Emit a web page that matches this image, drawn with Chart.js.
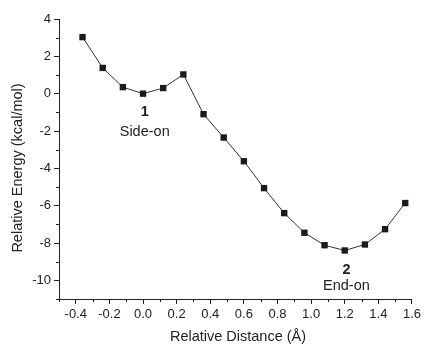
<!DOCTYPE html>
<html>
<head>
<meta charset="utf-8">
<script src="https://cdn.jsdelivr.net/npm/chart.js@4"></script>
<style>
  html, body { margin: 0; padding: 0; background: #fff; }
  #wrap { width: 424px; height: 344px; }
</style>
</head>
<body>
<div id="wrap"><canvas id="energy-chart" width="424" height="344"></canvas></div>
<script>
// Relative energy scan: side-on (1) -> end-on (2)
const distances = [-0.36, -0.24, -0.12, 0.0, 0.12, 0.24, 0.36, 0.48, 0.60, 0.72, 0.84, 0.96, 1.08, 1.20, 1.32, 1.44, 1.56];
const energies = [3.03, 1.38, 0.35, 0.0, 0.3, 1.03, -1.1, -2.35, -3.62, -5.06, -6.4, -7.45, -8.12, -8.4, -8.08, -7.26, -5.86];
const xTicks = [-0.4, -0.2, 0.0, 0.2, 0.4, 0.6, 0.8, 1.0, 1.2, 1.4, 1.6];
const xMinor = [-0.5, -0.3, -0.1, 0.1, 0.3, 0.5, 0.7, 0.9, 1.1, 1.3, 1.5];
const yTicks = [-10, -8, -6, -4, -2, 0, 2, 4];
const yMinor = [-11, -9, -7, -5, -3, -1, 1, 3];
const labels = [
  { x: 0.01, y: -1.0, text: '1', bold: true },
  { x: 0.01, y: -2.03, text: 'Side-on', bold: false },
  { x: 1.21, y: -9.43, text: '2', bold: true },
  { x: 1.21, y: -10.32, text: 'End-on', bold: false }
];

const FONT = '"Liberation Sans", Arial, sans-serif';
const INK = '#222';

// minor ticks, point labels and axis titles
const extras = {
  id: 'extras',
  afterDraw(chart) {
    const ctx = chart.ctx;
    const xs = chart.scales.x, ys = chart.scales.y;
    const area = chart.chartArea;
    ctx.save();
    ctx.strokeStyle = INK;
    ctx.lineWidth = 1;
    ctx.beginPath();
    xMinor.forEach(v => {
      const px = Math.round(xs.getPixelForValue(v)) + 0.5;
      ctx.moveTo(px, area.bottom);
      ctx.lineTo(px, area.bottom + 3);
    });
    yMinor.forEach(v => {
      const py = Math.round(ys.getPixelForValue(v)) + 0.5;
      ctx.moveTo(area.left, py);
      ctx.lineTo(area.left - 3, py);
    });
    ctx.stroke();

    ctx.fillStyle = INK;
    ctx.textAlign = 'center';
    ctx.textBaseline = 'middle';
    labels.forEach(l => {
      ctx.font = (l.bold ? 'bold ' : '') + '14.5px ' + FONT;
      ctx.fillText(l.text, xs.getPixelForValue(l.x), ys.getPixelForValue(l.y));
    });

    ctx.font = '14.5px ' + FONT;
    ctx.fillText('Relative Distance (Å)', 238, 337);
    ctx.translate(18, 168);
    ctx.rotate(-Math.PI / 2);
    ctx.fillText('Relative Energy (kcal/mol)', 0, 0);
    ctx.restore();
  }
};

const ctx = document.getElementById('energy-chart').getContext('2d');
new Chart(ctx, {
  type: 'scatter',
  data: {
    datasets: [{
      data: distances.map((d, i) => ({ x: d, y: energies[i] })),
      showLine: true,
      borderColor: '#333',
      borderWidth: 1,
      backgroundColor: '#1a1a1a',
      pointBackgroundColor: '#1a1a1a',
      pointBorderColor: '#1a1a1a',
      pointBorderWidth: 0,
      pointStyle: 'rect',
      pointRadius: 4.5
    }]
  },
  options: {
    responsive: false,
    animation: false,
    layout: { padding: { top: 19, right: 10, left: 0, bottom: 0 } },
    plugins: { legend: { display: false }, tooltip: { enabled: false } },
    scales: {
      x: {
        type: 'linear',
        min: -0.5,
        max: 1.6,
        afterBuildTicks: s => { s.ticks = xTicks.map(v => ({ value: v })); },
        afterFit: s => { s.height = 45; },
        grid: { drawOnChartArea: false, drawTicks: true, tickLength: 5, color: INK },
        border: { display: true, color: INK, width: 1 },
        ticks: {
          color: INK,
          padding: 3,
          maxRotation: 0,
          font: { family: FONT, size: 13 },
          callback: v => Number(v).toFixed(1)
        }
      },
      y: {
        min: -11,
        max: 4,
        afterBuildTicks: s => { s.ticks = yTicks.map(v => ({ value: v })); },
        afterFit: s => { s.width = 59; },
        grid: { drawOnChartArea: false, drawTicks: true, tickLength: 5, color: INK },
        border: { display: true, color: INK, width: 1 },
        ticks: {
          color: INK,
          padding: 3,
          font: { family: FONT, size: 13 },
          callback: v => String(v)
        }
      }
    }
  },
  plugins: [extras]
});
</script>
</body>
</html>
